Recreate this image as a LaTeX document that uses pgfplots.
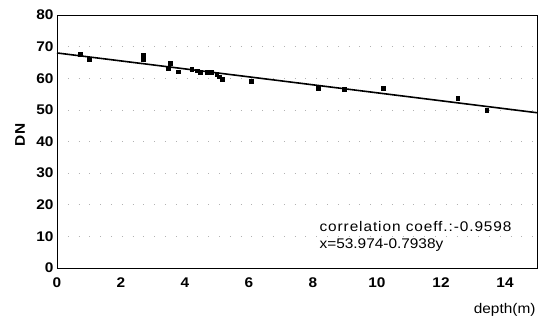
\documentclass[border=0pt]{standalone}
\usepackage{pgfplots}
\pgfplotsset{compat=1.18}
\usepackage{fontspec}
\setmainfont[FakeStretch=1.1]{Liberation Sans}
\begin{document}
\begin{tikzpicture}[x=1pt,y=1pt]
\begin{axis}[
  at={(0,0)}, anchor=south west,
  scale only axis, width=480pt, height=253pt,
  xmin=0, xmax=15, ymin=0, ymax=80,
  xtick={0,2,...,14}, ytick={0,10,...,80},
  major tick length=0pt,
  /pgf/number format/assume math mode=true,
  tick label style={font=\fontsize{14}{16}\selectfont\bfseries},
  xticklabel style={yshift=-6pt},
  axis line style={line width=0.9pt},
  ymajorgrids,
  major grid style={gray!60, line width=0.6pt, dash pattern=on 0.8pt off 10pt},
  xlabel={depth(m)},
  xlabel style={at={(axis description cs:1,0)}, anchor=east, xshift=2pt, yshift=-42pt, font=\fontsize{14}{16}\selectfont},
  ylabel={DN},
  ylabel style={at={(axis description cs:0,0.526)}, anchor=center, yshift=37pt, font=\fontsize{14}{16}\selectfont\bfseries},
  clip=false,
]
\addplot[black, line width=1.6pt] coordinates {(0,68) (15,49.1)};
\addplot[only marks, mark=square*, mark size=1.9pt, black] coordinates {
(0.72,67.7) (1.01,66.1) (2.70,67.3) (2.70,66.0) (3.55,64.8) (3.48,63.2)
(3.79,62.1) (4.21,62.9) (4.39,62.4) (4.47,61.8) (4.68,61.8) (4.83,61.8)
(4.99,61.4) (5.07,60.5) (5.15,59.7) (6.08,59.0)
(8.17,56.9) (8.97,56.6) (10.20,56.9) (12.52,53.7) (13.43,50.0)
};
\node[anchor=base west, inner sep=0pt, font=\fontsize{14}{16}\selectfont] at (axis cs:8.2,11.5) {\addfontfeatures{LetterSpace=6.5}correlation coeff.:-0.9598};
\node[anchor=base west, inner sep=0pt, font=\fontsize{14}{16}\selectfont] at (axis cs:8.2,6.1) {x=53.974-0.7938y};
\end{axis}
\path (-57pt,-55pt) rectangle (492pt,268pt);
\end{tikzpicture}
\end{document}
